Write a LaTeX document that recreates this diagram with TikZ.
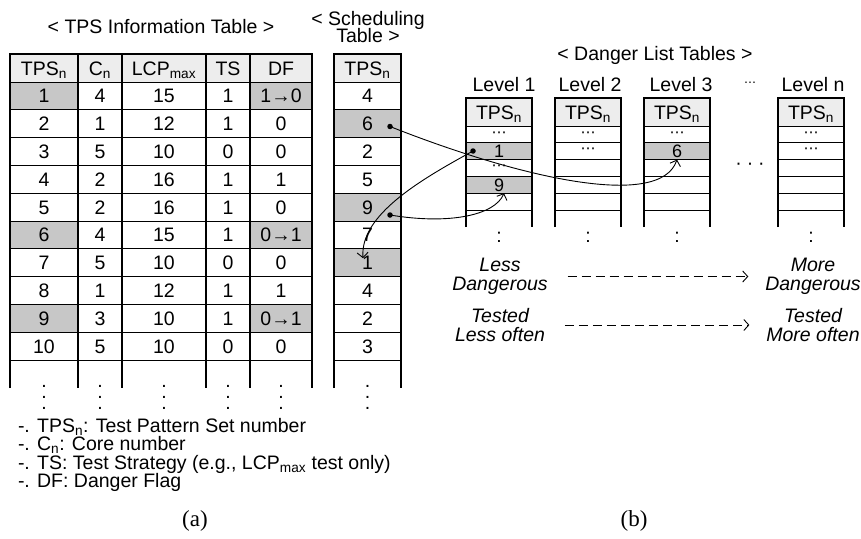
\documentclass[tikz,border=0pt]{standalone}
\usepackage{fontspec}
\setmainfont{Liberation Sans}
\newfontfamily\capfont{Liberation Serif}
\newfontfamily\symfont{DejaVu Sans}
\usetikzlibrary{arrows.meta,calc}
\definecolor{hdrgray}{gray}{0.93}
\definecolor{cellgray}{gray}{0.78}
% three stacked periods, 11pt apart, marking a table that continues downwards
\newcommand\colcont{\vbox{\baselineskip=11pt\lineskiplimit=-100pt\hbox{.}\hbox{.}\hbox{.}}}
\begin{document}
\begin{tikzpicture}[x=1pt,y=-1pt,
  every node/.style={inner sep=0pt, outer sep=0pt},
  txt/.style={font=\fontsize{19.5}{19}\selectfont},
  icell/.style={txt, minimum height=27.8pt, text height=14pt, text depth=0pt},
  lcell/.style={font=\fontsize{18}{18}\selectfont, minimum width=66pt, minimum height=16.8pt, text height=13pt, text depth=0pt},
  ldots/.style={font=\symfont\fontsize{15}{15}\selectfont},
  contmark/.style={txt, anchor=base},
  rowline/.style={line width=0.8pt},
  colline/.style={line width=1.2pt},
  frame/.style={line width=2.2pt, line join=miter},
  link/.style={line width=0.9pt, -{Straight Barb[length=5pt,width=11pt]}},
  flow/.style={line width=0.9pt, dash pattern=on 9pt off 5pt, -{Straight Barb[length=5pt,width=11pt]}},
  pin/.style={circle, fill=black, minimum size=5.5pt},
  note/.style={txt, anchor=base west},
  tag/.style={font=\itshape\fontsize{19.5}{19}\selectfont, align=center},
]
\useasboundingbox (0,0) rectangle (861,538);

% ---------- TPS information table ----------
\node[txt, anchor=base] (ttl-info) at (161,33) {< TPS Information Table >};
\fill[hdrgray] (10,54) rectangle (312,82);
\foreach \r in {1,6,9} {
  \fill[cellgray] (10,{82+27.8*(\r-1)}) rectangle (78,{82+27.8*\r});
  \fill[cellgray] (250,{82+27.8*(\r-1)}) rectangle (312,{82+27.8*\r});
}
\foreach \k in {0,...,10} \draw[rowline] (10,{82+27.8*\k}) -- (312,{82+27.8*\k});
\foreach \x in {78,122,206,250} \draw[colline] (\x,54) -- (\x,388);
\draw[frame] (10,388) -- (10,54) -- (312,54) -- (312,388);

\node[icell] (i-h-1) at (44,68) {TPS\textsubscript{n}};
\node[icell] (i-h-2) at (100,68) {C\textsubscript{n}};
\node[icell] (i-h-3) at (164,68) {LCP\textsubscript{max}};
\node[icell] (i-h-4) at (228,68) {TS};
\node[icell] (i-h-5) at (281,68) {DF};
\foreach \r/\a/\b/\c/\d/\e in {1/1/4/15/1/1→0, 2/2/1/12/1/0, 3/3/5/10/0/0,
    4/4/2/16/1/1, 5/5/2/16/1/0, 6/6/4/15/1/0→1, 7/7/5/10/0/0, 8/8/1/12/1/1,
    9/9/3/10/1/0→1, 10/10/5/10/0/0} {
  \pgfmathsetmacro\yc{82+27.8*(\r-0.5)}
  \node[icell] (i-\r-1) at (44,\yc) {\a};
  \node[icell] (i-\r-2) at (100,\yc) {\b};
  \node[icell] (i-\r-3) at (164,\yc) {\c};
  \node[icell] (i-\r-4) at (228,\yc) {\d};
  \node[icell] (i-\r-5) at (281,\yc) {\e};
}
% continuation marks below the open last row of both left tables
\foreach \x/\c in {44/1,100/2,164/3,228/4,281/5,367.5/6}
  \node[contmark] (more-\c) at (\x,409.5) {\colcont};

% ---------- scheduling table ----------
\node[txt, anchor=base] (ttl-sch1) at (368,25) {< Scheduling};
\node[txt, anchor=base] (ttl-sch2) at (368,42) {Table >};
\fill[hdrgray] (334,54) rectangle (401,82);
\foreach \r in {2,5,7}
  \fill[cellgray] (334,{82+27.8*(\r-1)}) rectangle (401,{82+27.8*\r});
\foreach \k in {0,...,10} \draw[rowline] (334,{82+27.8*\k}) -- (401,{82+27.8*\k});
\draw[frame] (334,388) -- (334,54) -- (401,54) -- (401,388);
\node[icell, minimum width=67pt] (s-h) at (367.5,68) {TPS\textsubscript{n}};
\foreach \r/\v in {1/4,2/6,3/2,4/5,5/9,6/7,7/1,8/4,9/2,10/3} {
  \pgfmathsetmacro\yc{82+27.8*(\r-0.5)}
  \node[icell, minimum width=67pt] (s-\r) at (367.5,\yc) {\v};
}

% ---------- legend and caption (a) ----------
\node[note] (n1) at (18,432) {-. TPS\textsubscript{n}: Test Pattern Set number};
\node[note] (n2) at (18,450.5) {-. C\textsubscript{n}: Core number};
\node[note] (n3) at (18,469) {-. TS: Test Strategy (e.g., LCP\textsubscript{max} test only)};
\node[note] (n4) at (18,487.5) {-. DF: Danger Flag};
\node[font=\capfont\fontsize{23}{23}\selectfont] (cap-a) at (195,521) {(a)};

% ---------- danger list tables ----------
\node[txt, anchor=base] (ttl-dl) at (655,60) {< Danger List Tables >};
\foreach \t/\lx/\lab in {1/466/504, 2/555/590, 3/644/681, n/778/813} {
  \node[txt, anchor=base] (lv-\t) at (\lab,91) {Level \t};
  \fill[hdrgray] (\lx,98) rectangle ({\lx+66},126);
  \node[lcell, font=\fontsize{19.5}{19}\selectfont, text height=14pt, minimum height=28pt] (l\t-h) at ({\lx+33},112) {TPS\textsubscript{n}};
}
\fill[cellgray] (466,142.8) rectangle (532,159.6);
\fill[cellgray] (466,176.4) rectangle (532,193.2);
\fill[cellgray] (644,142.8) rectangle (710,159.6);
\foreach \t/\lx in {1/466, 2/555, 3/644, n/778} {
  \foreach \k in {0,...,5} \draw[rowline] (\lx,{126+16.8*\k}) -- ({\lx+66},{126+16.8*\k});
  \draw[frame] (\lx,227) -- (\lx,98) -- ({\lx+66},98) -- ({\lx+66},227);
  \node[txt] (l\t-more) at ({\lx+33},237) {:};
}
\node[lcell] (l1-2) at (499,151.2) {1};
\node[lcell] (l1-4) at (499,184.8) {9};
\node[lcell] (l3-2) at (677,151.2) {6};
\foreach \t/\cx/\r in {1/499/1, 1/499/3, 2/588/1, 2/588/2, 3/677/1, n/811/1, n/811/2}
  \node[ldots] (l\t-d\r) at (\cx,{126+16.8*(\r-0.5)}) {⋯};
\node[ldots, font=\symfont\fontsize{12}{12}\selectfont] (lv-gap) at (750,84) {⋯};
\node[txt] (tbl-gap) at (750,166) {·\hspace{5pt}·\hspace{5pt}·};

% ---------- trend labels ----------
\node[tag] (less-d) at (500,276.5) {Less\\Dangerous};
\node[tag] (more-d) at (813,276.5) {More\\Dangerous};
\node[tag] (less-t) at (500,325) {Tested\\Less often};
\node[tag] (more-t) at (813,325) {Tested\\More often};
\draw[flow, shorten <=20pt, shorten >=17pt] (less-d.east) -- (more-d.west);
\draw[flow, shorten <=20pt, shorten >=17pt] (less-t.east) -- (more-t.west);
\node[font=\capfont\fontsize{23}{23}\selectfont] (cap-b) at (634,521) {(b)};

% ---------- moves between tables ----------
\node[pin] (p6) at (390,126.5) {};
\node[pin] (p9) at (390,215) {};
\node[pin] (p1) at (473,151) {};
\draw[link] (p6.center) .. controls (520,178) and (660,210) .. (l3-2.south);
\draw[link] (p1.center) .. controls (420,180) and (360,215) .. ($(s-7.center)+(-4.5,-4.5)$);
\draw[link] (p9.center) .. controls (450,225) and (495,215) .. ($(l1-4.south)+(5,0)$);
\end{tikzpicture}
\end{document}
